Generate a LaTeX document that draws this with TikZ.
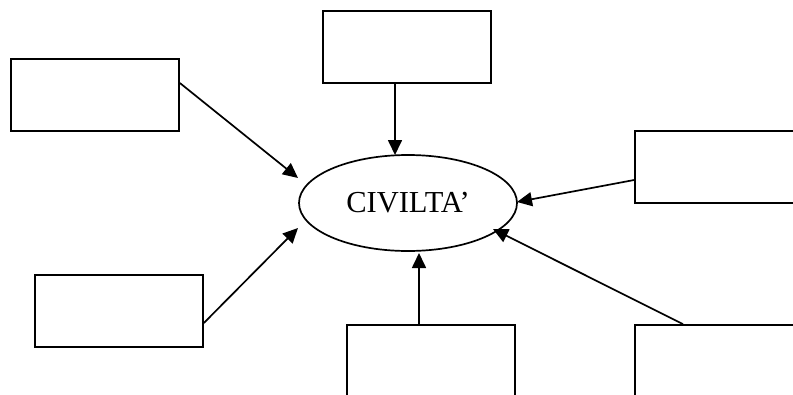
\documentclass[tikz,border=0pt]{standalone}
\usepackage{fontspec}
\setmainfont{Liberation Serif}
\usetikzlibrary{shapes.geometric,arrows.meta}
\tikzset{
  box/.style={draw=black, line width=1.7pt, minimum width=168pt, minimum height=72pt, inner sep=0pt},
  hub/.style={draw=black, line width=1.7pt, ellipse, minimum width=218pt, minimum height=96pt, inner sep=0pt, font=\fontsize{30.5}{34}\selectfont},
  link/.style={line width=1.7pt, -{Triangle[length=15pt,width=14pt]}}
}
\begin{document}
\begin{tikzpicture}[x=1pt,y=-1pt]
\useasboundingbox (0,0) rectangle (793,394);
\clip (0,0) rectangle (793,394);
\fill[white] (0,0) rectangle (793,394);
\node[hub] (c) at (408,203) {CIVILTA’};
\node[box] (tl) at (95,95) {};
\node[box] (tc) at (407,47) {};
\node[box] (r) at (719,167) {};
\node[box] (bl) at (119,311) {};
\node[box] (bc) at (431,361) {};
\node[box] (br) at (719,361) {};
\coordinate (ttl) at (298,178);
\coordinate (ttc) at (395,155);
\coordinate (tr) at (517,202);
\coordinate (tbl) at (298,228);
\coordinate (tbc) at (419,253);
\coordinate (tbr) at (493,229);
\draw[link] ([yshift=12pt]tl.east) -- (ttl);
\draw[link] ([xshift=-12pt]tc.south) -- (ttc);
\draw[link] ([yshift=-13pt]r.west) -- (tr);
\draw[link] ([yshift=-12pt]bl.east) -- (tbl);
\draw[link] ([xshift=-12pt]bc.north) -- (tbc);
\draw[link] ([xshift=-36pt]br.north) -- (tbr);
\end{tikzpicture}
\end{document}
